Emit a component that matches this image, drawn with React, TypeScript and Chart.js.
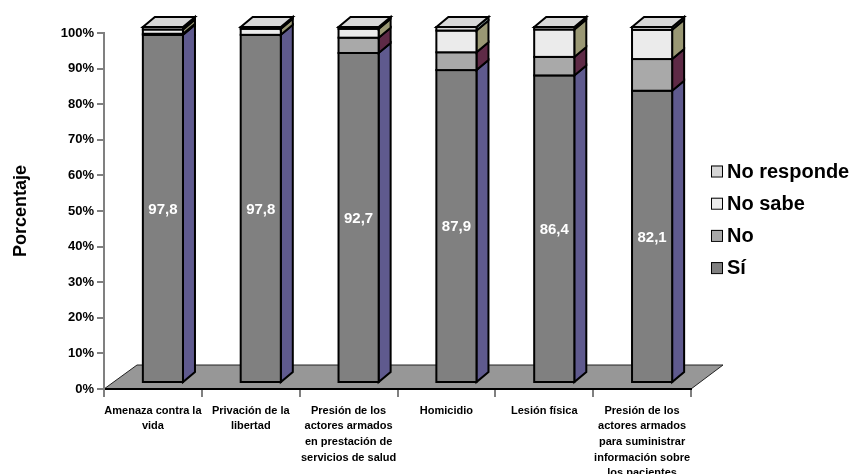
import React, { useEffect, useRef } from "react";
import { Chart, registerables } from "chart.js";

Chart.register(...registerables);

const FONT = '"Liberation Sans", Arial, Helvetica, sans-serif';

const categories: string[][] = [
  ["Amenaza contra la", "vida"],
  ["Privación de la", "libertad"],
  ["Presión de los", "actores armados", "en prestación de", "servicios de salud"],
  ["Homicidio"],
  ["Lesión física"],
  ["Presión de los", "actores armados", "para suministrar", "información sobre", "los pacientes"],
];

const seriesNames = ["Sí", "No", "No sabe", "No responde"];
const si = [97.8, 97.8, 92.7, 87.9, 86.4, 82.1];
const no = [0.3, 0, 4.3, 5.0, 5.2, 8.9];
const noSabe = [1.2, 1.7, 2.5, 6.1, 7.7, 8.2];
const noResponde = [0.7, 0.5, 0.5, 1.0, 0.7, 0.8];

const frontColors = ["#808080", "#A9A9A9", "#EBEBEB", "#D6D6D6"];
const sideColors = ["#5F5A8E", "#5E2A46", "#9A9874", "#93A9A5"];
const topColor = "#D8D8D8";
const floorColor = "#979797";

// 3D projection offsets (pixels)
const DX = 10;
const DY = -6;
const SX = 12;
const SY = 10;
const FLOOR_DX = 33;
const FLOOR_DY = 24;

const threeD = {
  id: "threeD",
  beforeDraw(chart: any) {
    const { ctx, chartArea: a } = chart;
    ctx.save();
    ctx.beginPath();
    ctx.moveTo(a.left, a.bottom);
    ctx.lineTo(a.left + FLOOR_DX, a.bottom - FLOOR_DY);
    ctx.lineTo(a.right + FLOOR_DX - 1, a.bottom - FLOOR_DY);
    ctx.lineTo(a.right, a.bottom);
    ctx.closePath();
    ctx.fillStyle = floorColor;
    ctx.fill();
    ctx.strokeStyle = "#222";
    ctx.lineWidth = 1;
    ctx.stroke();
    ctx.restore();
  },
  beforeDatasetsDraw(chart: any) {
    const ctx = chart.ctx;
    const n = chart.data.labels.length;
    const dsCount = chart.data.datasets.length;
    ctx.save();
    ctx.lineWidth = 2;
    ctx.strokeStyle = "#000";
    ctx.lineJoin = "miter";
    const labelPos: { x: number; y: number; text: string }[] = [];
    for (let i = 0; i < n; i++) {
      let topBox: { l: number; r: number; t: number } | null = null;
      for (let d = 0; d < dsCount; d++) {
        const meta = chart.getDatasetMeta(d);
        const el = meta.data[i];
        const v = chart.data.datasets[d].data[i];
        if (!el || !v) continue;
        const { x, y, base, width } = el.getProps(["x", "y", "base", "width"], true);
        const l = x - width / 2 + DX;
        const r = x + width / 2 + DX;
        const t = y + DY;
        const b = base + DY;
        // side face
        ctx.beginPath();
        ctx.moveTo(r, t);
        ctx.lineTo(r + SX, t - SY);
        ctx.lineTo(r + SX, b - SY);
        ctx.lineTo(r, b);
        ctx.closePath();
        ctx.fillStyle = sideColors[d];
        ctx.fill();
        ctx.stroke();
        // front face
        ctx.fillStyle = frontColors[d];
        ctx.fillRect(l, t, r - l, b - t);
        ctx.strokeRect(l, t, r - l, b - t);
        topBox = { l, r, t };
        if (d === 0) {
          labelPos.push({
            x: (l + r) / 2,
            y: (t + b) / 2,
            text: Number(v).toFixed(1).replace(".", ","),
          });
        }
      }
      if (topBox) {
        const { l, r, t } = topBox;
        ctx.beginPath();
        ctx.moveTo(l, t);
        ctx.lineTo(l + SX, t - SY);
        ctx.lineTo(r + SX, t - SY);
        ctx.lineTo(r, t);
        ctx.closePath();
        ctx.fillStyle = topColor;
        ctx.fill();
        ctx.stroke();
      }
    }
    ctx.fillStyle = "#FFFFFF";
    ctx.font = `bold 15px ${FONT}`;
    ctx.textAlign = "center";
    ctx.textBaseline = "middle";
    labelPos.forEach((p) => ctx.fillText(p.text, p.x, p.y + 1));
    ctx.restore();
    return false;
  },
  afterDraw(chart: any) {
    const ctx = chart.ctx;
    const ds = chart.data.datasets.slice().reverse();
    const x0 = 711;
    const y0 = 171;
    const step = 32.2;
    ctx.save();
    ctx.font = `bold 20px ${FONT}`;
    ctx.textAlign = "left";
    ctx.textBaseline = "middle";
    ds.forEach((d: any, k: number) => {
      const yc = y0 + k * step;
      ctx.fillStyle = d.backgroundColor;
      ctx.fillRect(x0, yc - 5.5, 11, 11);
      ctx.strokeStyle = "#000";
      ctx.lineWidth = 1;
      ctx.strokeRect(x0 + 0.5, yc - 5.5 + 0.5, 11, 11);
      ctx.fillStyle = "#000";
      ctx.fillText(d.label, x0 + 16, yc + 1);
    });
    ctx.restore();
  },
};

export default function App() {
  const ref = useRef<HTMLCanvasElement | null>(null);
  useEffect(() => {
    if (!ref.current) return;
    const seriesData = [si, no, noSabe, noResponde];
    const chart = new Chart(ref.current, {
      type: "bar",
      data: {
        labels: categories,
        datasets: seriesData.map((data, d) => ({
          label: seriesNames[d],
          data,
          backgroundColor: frontColors[d],
          borderColor: "#000",
          borderWidth: 2,
          categoryPercentage: 1,
          barPercentage: 0.41,
        })),
      },
      options: {
        responsive: false,
        animation: false,
        layout: { padding: { top: 33, right: 162, left: 0, bottom: 0 } },
        plugins: {
          legend: { display: false },
          tooltip: { enabled: false },
        },
        scales: {
          x: {
            stacked: true,
            grid: {
              display: true,
              drawOnChartArea: false,
              offset: true,
              tickLength: 8,
              color: "#808080",
              lineWidth: 2,
            },
            border: { display: true, color: "#000", width: 2 },
            ticks: {
              color: "#000",
              font: { family: FONT, size: 11, weight: "bold", lineHeight: 1.42 },
              padding: 6,
              maxRotation: 0,
              minRotation: 0,
              autoSkip: false,
            },
            afterFit: (s: any) => {
              s.height = 85;
            },
          },
          y: {
            stacked: true,
            min: 0,
            max: 100,
            grid: {
              display: true,
              drawOnChartArea: false,
              tickLength: 7,
              color: "#808080",
              lineWidth: 2,
            },
            border: { display: true, color: "#808080", width: 2 },
            ticks: {
              stepSize: 10,
              color: "#000",
              padding: 3,
              font: { family: FONT, size: 13, weight: "bold" },
              callback: (v: any) => `${v}%`,
            },
            title: {
              display: true,
              text: "Porcentaje",
              color: "#000",
              font: { family: FONT, size: 18, weight: "bold" },
              padding: { top: 10, bottom: 0 },
            },
            afterFit: (s: any) => {
              s.width = 104;
            },
          },
        },
      },
      plugins: [threeD],
    });
    return () => chart.destroy();
  }, []);
  return (
    <div style={{ position: "absolute", left: 0, top: 0, width: 853, height: 474, background: "#fff" }}>
      <canvas ref={ref} width={853} height={474} />
    </div>
  );
}
